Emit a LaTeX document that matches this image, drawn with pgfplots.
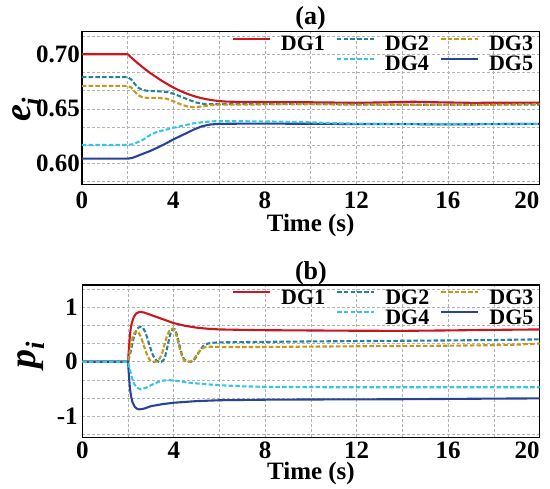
\documentclass[border=0pt]{standalone}
\usepackage{fontspec}
\setmainfont{Liberation Serif}
\usepackage{pgfplots}
\pgfplotsset{compat=1.18}
\definecolor{cRed}{RGB}{204,22,30}
\definecolor{cTeal}{RGB}{38,128,160}
\definecolor{cGold}{RGB}{200,150,24}
\definecolor{cCyan}{RGB}{52,198,230}
\definecolor{cBlue}{RGB}{40,68,150}
\pgfplotsset{
  sDGa/.style={color=cRed, line width=2.1pt, solid},
  sDGb/.style={color=cTeal, line width=2.1pt, dash pattern=on 4.5pt off 2.2pt},
  sDGc/.style={color=cGold, line width=2.1pt, dash pattern=on 4.5pt off 2.2pt},
  sDGd/.style={color=cCyan, line width=2.1pt, dash pattern=on 4.5pt off 2.2pt},
  sDGe/.style={color=cBlue, line width=2.1pt, solid},
  myax/.style={
    scale only axis, width=457.3pt, height=152.6pt,
    xmin=0, xmax=20,
    xtick={0,4,8,12,16,20}, xticklabels={0,4,8,12,16,\llap{20}},
    minor xtick={2,6,10,14,18},
    grid=both,
    major grid style={dash pattern=on 3pt off 2pt, black!30, line width=0.6pt},
    minor grid style={dash pattern=on 3pt off 2pt, black!30, line width=0.6pt},
    major tick length=0pt, minor tick length=0pt,
    axis line style={line width=1.3pt},
    tick label style={font=\fontsize{25}{27}\selectfont\bfseries},
    /pgf/number format/assume math mode=true,
    xlabel={Time (s)},
    xlabel style={font=\fontsize{25}{28}\selectfont\bfseries, inner sep=0pt},
    title style={font=\fontsize{26}{28}\selectfont\bfseries, at={(axis description cs:0.5,1)}, anchor=south, inner sep=0pt, yshift=-5pt},
    legend columns=3,
    legend style={draw=none, fill=none, at={(axis description cs:1,1)}, anchor=north east,
      xshift=-6pt, yshift=-4pt, inner sep=0pt,
      font=\fontsize{22}{24}\selectfont\bfseries,
      nodes={inner sep=0pt, text height=15pt, text depth=5pt},
      /tikz/every odd column/.style={column sep=10pt},
      /tikz/every even column/.style={column sep=11pt}},
    legend image code/.code={\draw[##1] (0pt,7pt) -- (37pt,7pt);},
  }
}
\begin{document}
\begin{tikzpicture}
\useasboundingbox (0pt,0pt) rectangle (550pt,-489pt);
% ---------------- (a)
\begin{axis}[myax, at={(82pt,-31.7pt)}, anchor=north west,
  ymin=0.5808, ymax=0.7207,
  ytick={0.60,0.65,0.70}, yticklabels={0.60,0.65,0.70},
  minor ytick={0.58333,0.61667,0.63333,0.66667,0.68333,0.71667},
  yticklabel style={inner sep=0pt, xshift=-2pt},
  xticklabel style={inner sep=0pt, yshift=-7.4pt},
  xlabel style={yshift=-5pt},
  title={(a)},
  ylabel={e\textsubscript{i}},
  ylabel style={font=\fontsize{38}{40}\selectfont\bfseries\itshape, at={(axis description cs:-0.121,0.49)}, anchor=center},
]
\addplot[sDGa, forget plot] coordinates {(0,0.700) (2,0.700) (2.2,0.6962) (2.4,0.6925) (2.6,0.6890) (2.8,0.6857) (3.0,0.6826) (3.2,0.6797) (3.4,0.6769) (3.6,0.6743) (3.8,0.6718) (4.0,0.6695) (4.2,0.6674) (4.4,0.6655) (4.6,0.6638) (4.8,0.6623) (5.0,0.6610) (5.2,0.6599) (5.4,0.6590) (5.6,0.6582) (5.8,0.6576) (6.0,0.6571) (6.3,0.6566) (7,0.6563) (8,0.6562) (10,0.656) (12,0.6555) (13.5,0.656) (14.5,0.6565) (15.5,0.656) (17,0.6555) (20,0.6556)};
\addplot[sDGb, forget plot] coordinates {(0,0.679) (2,0.679) (2.15,0.677) (2.3,0.673) (2.45,0.6695) (2.65,0.6672) (2.9,0.6664) (3.4,0.666) (3.8,0.6652) (4.1,0.663) (4.4,0.6605) (4.7,0.658) (5.0,0.6558) (5.3,0.6546) (5.7,0.6542) (6.5,0.6543) (8,0.6545) (10,0.6546) (12,0.654) (14,0.6538) (16,0.6537) (18,0.6538) (20,0.654)};
\addplot[sDGc, forget plot] coordinates {(0,0.671) (2,0.671) (2.15,0.6695) (2.3,0.666) (2.45,0.6625) (2.65,0.6605) (2.9,0.66) (3.3,0.66) (3.7,0.6593) (4.0,0.657) (4.3,0.6542) (4.6,0.6522) (4.87,0.6515) (5.2,0.652) (5.6,0.6533) (6.0,0.6539) (7,0.6538) (8,0.654) (10,0.6542) (12,0.6538) (14,0.6537) (16,0.6536) (18,0.6537) (20,0.6542)};
\addplot[sDGe, forget plot] coordinates {(0,0.6043) (2,0.6043) (2.2,0.605) (2.45,0.607) (2.75,0.6095) (3.0,0.6115) (3.3,0.6144) (3.65,0.618) (4.0,0.622) (4.45,0.6265) (4.9,0.6311) (5.25,0.634) (5.6,0.6356) (6.0,0.6362) (7,0.6364) (8,0.6364) (10,0.6363) (12,0.636) (14,0.636) (16,0.6357) (18,0.636) (20,0.6362)};
\addplot[sDGd, forget plot] coordinates {(0,0.6168) (2,0.6168) (2.2,0.6175) (2.45,0.6195) (2.7,0.622) (3.0,0.6262) (3.3,0.629) (3.7,0.631) (4.0,0.6326) (4.5,0.635) (4.9,0.6368) (5.4,0.638) (5.8,0.6386) (7,0.6386) (8.5,0.6383) (10,0.6376) (11,0.6368) (12,0.6364) (14,0.6362) (16,0.6362) (18,0.6362) (20,0.6362)};
\addlegendimage{sDGa}\addlegendentry{DG1}
\addlegendimage{sDGb}\addlegendentry{DG2}
\addlegendimage{sDGc}\addlegendentry{DG3}
\addlegendimage{empty legend}\addlegendentry{}
\addlegendimage{sDGd}\addlegendentry{DG4}
\addlegendimage{sDGe}\addlegendentry{DG5}
\end{axis}
% ---------------- (b)
\begin{axis}[myax, at={(82.3pt,-285pt)}, anchor=north west,
  height=152.5pt,
  ymin=-1.39, ymax=1.41,
  ytick={-1,0,1}, yticklabels={-1,0,1},
  minor ytick={-1.33333,-0.66667,-0.33333,0.33333,0.66667,1.33333},
  yticklabel style={inner sep=0pt, xshift=-4.5pt},
  xticklabel style={inner sep=0pt, yshift=-4pt},
  xlabel style={yshift=-3.4pt},
  title={(b)},
  title style={yshift=-1.5pt},
  ylabel={p\textsubscript{i}},
  ylabel style={font=\fontsize{38}{40}\selectfont\bfseries\itshape, at={(axis description cs:-0.112,0.54)}, anchor=center},
]
\addplot[sDGa, forget plot] coordinates {(0,0) (2,0) (2.04,0.25) (2.08,0.47) (2.12,0.62) (2.17,0.72) (2.25,0.82) (2.35,0.885) (2.5,0.917) (2.7,0.905) (3.0,0.86) (3.5,0.785) (4.0,0.71) (4.5,0.66) (5.0,0.627) (5.5,0.606) (6.0,0.594) (7,0.586) (8,0.58) (10,0.575) (12,0.57) (14,0.568) (16,0.576) (18,0.586) (20,0.594)};
\addplot[sDGb, forget plot] coordinates {(0,0) (2,0) (2.08,0.12) (2.16,0.28) (2.25,0.44) (2.35,0.56) (2.45,0.625) (2.55,0.645) (2.65,0.625) (2.75,0.55) (2.85,0.43) (2.95,0.29) (3.05,0.16) (3.15,0.07) (3.25,0.02) (3.35,0.0) (3.45,0.0) (3.55,0.03) (3.63,0.11) (3.72,0.27) (3.8,0.43) (3.88,0.55) (3.96,0.605) (4.04,0.6) (4.12,0.52) (4.2,0.39) (4.28,0.25) (4.36,0.13) (4.45,0.05) (4.55,0.01) (4.65,0.0) (4.75,0.0) (4.85,0.02) (4.95,0.07) (5.05,0.14) (5.15,0.21) (5.25,0.27) (5.35,0.31) (5.5,0.335) (5.7,0.35) (6.0,0.357) (7,0.362) (8,0.366) (10,0.374) (12,0.38) (14,0.386) (16,0.392) (18,0.4) (20,0.412)};
\addplot[sDGc, forget plot] coordinates {(0,0) (2,0) (2.06,0.15) (2.13,0.32) (2.2,0.45) (2.28,0.53) (2.37,0.56) (2.46,0.54) (2.56,0.46) (2.66,0.34) (2.76,0.21) (2.86,0.1) (2.96,0.03) (3.06,0.0) (3.2,0.0) (3.3,0.02) (3.4,0.07) (3.5,0.17) (3.6,0.32) (3.7,0.47) (3.8,0.565) (3.9,0.605) (3.98,0.61) (4.06,0.56) (4.14,0.45) (4.22,0.31) (4.3,0.18) (4.38,0.08) (4.47,0.02) (4.57,0.0) (4.7,0.0) (4.8,0.02) (4.9,0.06) (5.0,0.12) (5.1,0.18) (5.2,0.23) (5.3,0.26) (5.45,0.275) (5.7,0.276) (6.0,0.272) (8,0.272) (10,0.279) (12,0.285) (14,0.29) (16,0.295) (18,0.305) (19,0.315) (20,0.335)};
\addplot[sDGe, forget plot] coordinates {(0,0) (2,0) (2.04,-0.25) (2.08,-0.47) (2.13,-0.63) (2.2,-0.75) (2.3,-0.83) (2.4,-0.865) (2.5,-0.874) (2.7,-0.86) (3.0,-0.815) (3.5,-0.778) (4.0,-0.752) (5.0,-0.722) (6.0,-0.706) (8,-0.696) (10,-0.692) (12,-0.69) (14,-0.687) (16,-0.682) (18,-0.676) (20,-0.672)};
\addplot[sDGd, forget plot] coordinates {(0,0) (2,0) (2.07,-0.12) (2.15,-0.26) (2.25,-0.39) (2.37,-0.47) (2.55,-0.505) (2.8,-0.475) (3.1,-0.41) (3.45,-0.35) (3.75,-0.335) (4.1,-0.35) (4.6,-0.38) (5.2,-0.405) (6.0,-0.43) (7,-0.45) (8,-0.46) (10,-0.466) (12,-0.468) (14,-0.468) (16,-0.468) (18,-0.468) (20,-0.468)};
\addlegendimage{sDGa}\addlegendentry{DG1}
\addlegendimage{sDGb}\addlegendentry{DG2}
\addlegendimage{sDGc}\addlegendentry{DG3}
\addlegendimage{empty legend}\addlegendentry{}
\addlegendimage{sDGd}\addlegendentry{DG4}
\addlegendimage{sDGe}\addlegendentry{DG5}
\end{axis}
\end{tikzpicture}
\end{document}
